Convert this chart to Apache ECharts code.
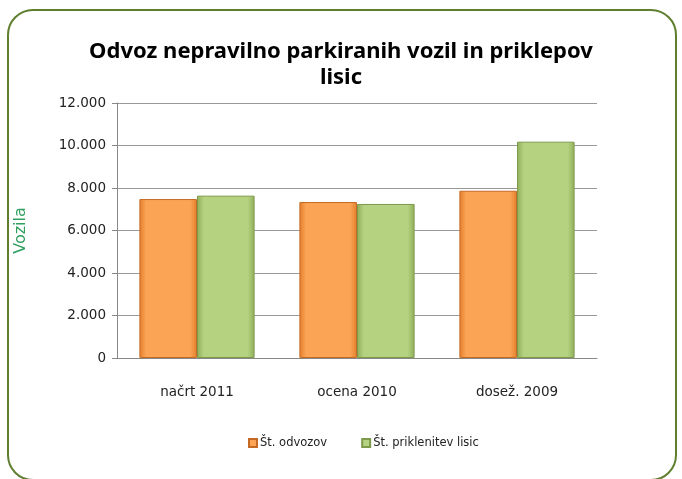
<!DOCTYPE html>
<html>
<head>
<meta charset="utf-8">
<script src="https://cdn.jsdelivr.net/npm/echarts@6/dist/echarts.min.js"></script>
<style>
  html, body { margin: 0; padding: 0; background: #fff; }
  #chart { width: 682px; height: 479px; }
</style>
</head>
<body>
<div id="chart"></div>
<script>
// podatki
var categories = ['načrt 2011', 'ocena 2010', 'dosež. 2009'];
var odvozi = [7480, 7340, 7870];
var priklenitve = [7640, 7250, 10180];
var seriesNames = ['Št. odvozov', 'Št. priklenitev lisic'];

function fmt(v) {
  return String(v).replace(/\B(?=(\d{3})+(?!\d))/g, '.');
}

function barGrad(edge, mid) {
  return new echarts.graphic.LinearGradient(0, 0, 1, 0, [
    { offset: 0, color: edge },
    { offset: 0.12, color: mid },
    { offset: 0.88, color: mid },
    { offset: 1, color: edge }
  ]);
}

var chart = echarts.init(document.getElementById('chart'));
chart.setOption({
  animation: false,
  textStyle: { fontFamily: 'DejaVu Sans' },
  graphic: [{
    type: 'rect',
    shape: { x: 8, y: 10, width: 668, height: 470, r: 25 },
    style: { fill: 'none', stroke: '#5f7f2f', lineWidth: 2 },
    z: -1
  }],
  title: {
    text: 'Odvoz nepravilno parkiranih vozil in priklepov\nlisic',
    left: 'center',
    top: 34,
    textStyle: { fontFamily: 'Noto Sans', fontWeight: 'bold', fontSize: 22, color: '#000', lineHeight: 26 }
  },
  legend: {
    left: 243, top: 432,
    itemWidth: 8, itemHeight: 8, itemGap: 34,
    icon: 'rect',
    textStyle: { fontSize: 11.5, color: '#222', padding: [0, 0, 0, -2] },
    data: seriesNames
  },
  grid: { left: 117, right: 85, top: 103, bottom: 121 },
  xAxis: {
    type: 'category',
    data: categories,
    axisLine: { lineStyle: { color: '#888' } },
    axisTick: { show: false },
    axisLabel: { color: '#222', fontSize: 13.5, margin: 27 }
  },
  yAxis: {
    type: 'value',
    min: 0, max: 12000, interval: 2000,
    name: 'Vozila',
    nameLocation: 'middle',
    nameGap: 88,
    nameTextStyle: { color: '#2e9e5e', fontSize: 16, fontFamily: 'DejaVu Sans' },
    axisLine: { show: true, lineStyle: { color: '#888' } },
    axisTick: { show: true, inside: false, length: 5, lineStyle: { color: '#888' } },
    axisLabel: { color: '#222', fontSize: 13.5, margin: 11, formatter: fmt },
    splitLine: { lineStyle: { color: '#999' } }
  },
  series: [{
    name: seriesNames[0],
    type: 'bar',
    data: odvozi,
    barGap: '0%',
    barCategoryGap: '28%',
    itemStyle: { color: barGrad('#e37f2c', '#fba456'), borderColor: '#c46a24', borderWidth: 1 }
  }, {
    name: seriesNames[1],
    type: 'bar',
    data: priklenitve,
    itemStyle: { color: barGrad('#8fae5a', '#b4d27f'), borderColor: '#7d9a4c', borderWidth: 1 }
  }]
});
</script>
</body>
</html>
